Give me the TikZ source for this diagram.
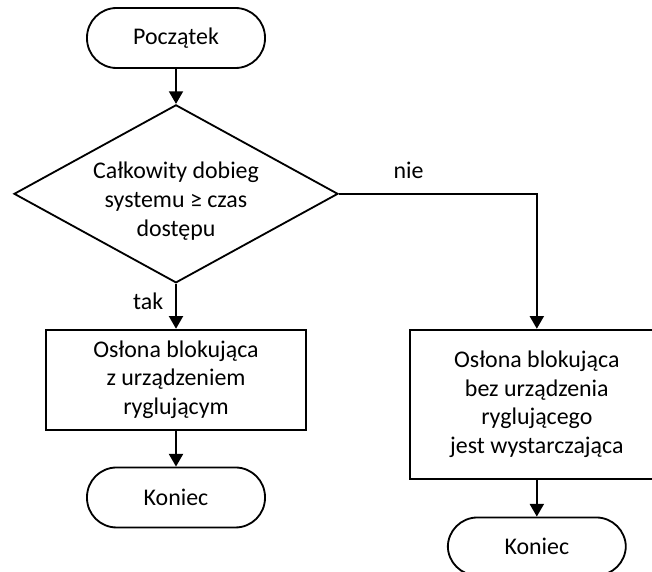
\documentclass[tikz,border=0pt]{standalone}
\usepackage{fontspec}
\setmainfont{Carlito}
\usetikzlibrary{arrows.meta, positioning, shapes.geometric}

\begin{document}
\begin{tikzpicture}[
    every node/.style={font=\fontsize{17pt}{20.3pt}\selectfont},
    term/.style={
        rectangle, rounded corners=0.74cm, draw, line width=1.3pt,
        minimum width=4.45cm, minimum height=1.5cm, align=center
    },
    procbox/.style={
        rectangle, draw, line width=1.3pt, minimum width=6.5cm,
        minimum height=2.5cm, align=center
    },
    decision/.style={
        diamond, draw, line width=1.3pt, aspect=1.82, inner sep=0pt,
        minimum width=8.1cm, minimum height=4.45cm, align=center
    },
    flow/.style={-{Triangle[length=9pt, width=10pt]}, line width=1.3pt},
    lbl/.style={inner sep=2pt},
]
\useasboundingbox (0,0) rectangle (16.3,-14.3);

% ===== Start and decision =====
\node[term] (start) at (4.4,-0.95) {Początek};
\node[decision, below=0.875cm of start] (dec)
    {\raisebox{-10pt}[0pt][0pt]{\begin{tabular}{@{}c@{}}
        Całkowity dobieg\\systemu ≥ czas\\dostępu\end{tabular}}};

% ===== Left branch: tak =====
\node[procbox, below=1.125cm of dec] (lbox)
    {Osłona blokująca\\z urządzeniem\\ryglującym};
\node[term, below=0.9cm of lbox] (endl) {Koniec};

% ===== Right branch: nie =====
\node[procbox, minimum width=6.35cm, minimum height=3.725cm,
      anchor=north west] (rbox) at ([xshift=2.55cm]lbox.north east)
    {Osłona blokująca\\bez urządzenia\\ryglującego\\jest wystarczająca};
\node[term, below=0.925cm of rbox, minimum height=1.45cm] (endr) {Koniec};

% arrows
\draw[flow] (start) -- (dec);
\draw[flow] (dec.south) -- node[lbl, left=6.5pt, pos=0.4] (tak) {tak} (lbox);
\draw[flow] (dec.east) -| node[lbl, pos=0.176, above=8pt] (nie) {nie} (rbox);
\draw[flow] (lbox) -- (endl);
\draw[flow] (rbox) -- (endr);

\end{tikzpicture}
\end{document}
